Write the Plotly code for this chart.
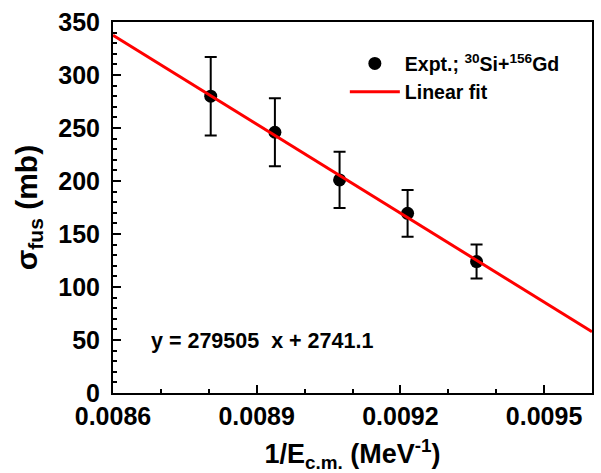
import plotly.graph_objects as go

inv_ecm = [0.008804, 0.008938, 0.009073, 0.009215, 0.009359]
sigma_fus = [280.0, 246.0, 201.0, 169.5, 124.0]
sigma_err = [37.0, 32.0, 26.5, 22.0, 16.0]

# Linear fit line endpoints (y = -279505 x + 2741.1)
fit_x = [0.0086, 0.0096]
fit_y = [337.5, 57.8]

x_ticks = [0.0086, 0.0089, 0.0092, 0.0095]
y_ticks = [0, 50, 100, 150, 200, 250, 300, 350]

FONT = "Liberation Sans, Arial, sans-serif"

fig = go.Figure()
fig.add_trace(go.Scatter(
    x=inv_ecm, y=sigma_fus, mode="markers",
    name="<b>Expt.; <sup>30</sup>Si+<sup>156</sup>Gd</b>",
    marker=dict(color="black", size=13),
    error_y=dict(type="data", array=sigma_err, color="black", thickness=2, width=6),
))
fig.add_trace(go.Scatter(
    x=fit_x, y=fit_y, mode="lines", name="<b>Linear fit</b>",
    line=dict(color="red", width=3),
))

fig.add_annotation(
    x=0.008912, y=49, xref="x", yref="y", showarrow=False,
    text="<b>y = 279505  x + 2741.1</b>",
    font=dict(family=FONT, size=21.5, color="black"),
)

axis_common = dict(
    showline=True, linecolor="black", linewidth=2, mirror=True,
    ticks="inside", ticklen=8, tickwidth=2, tickcolor="black",
    showgrid=False, zeroline=False, automargin=False,
    tickfont=dict(family=FONT, size=25, color="black"),
)

fig.update_xaxes(
    range=[0.0086, 0.0096], tickvals=x_ticks,
    ticktext=[f"<b>{v:.4f}</b>" for v in x_ticks],
    minor=dict(dtick=0.0001, tick0=0.0086, ticks="inside", ticklen=4, tickwidth=2, tickcolor="black"),
    title=dict(text="<b>1/E<sub>c.m.</sub> (MeV<sup>-1</sup>)</b>", font=dict(family=FONT, size=27, color="black"), standoff=20),
    **axis_common,
)
fig.update_yaxes(
    range=[0, 350], tickvals=y_ticks,
    ticktext=[f"<b>{v}</b>" for v in y_ticks],
    minor=dict(dtick=10, tick0=0, ticks="inside", ticklen=4, tickwidth=2, tickcolor="black"),
    title=dict(text="<b>σ<sub>fus</sub> (mb)</b>", font=dict(family=FONT, size=30, color="black"), standoff=12),
    ticklabelstandoff=6,
    **axis_common,
)

fig.update_layout(
    width=601, height=473,
    margin=dict(l=113, r=9, t=22, b=80),
    plot_bgcolor="white", paper_bgcolor="white",
    showlegend=True,
    legend=dict(
        x=0.484, y=0.94, xanchor="left", yanchor="top",
        bgcolor="rgba(0,0,0,0)", borderwidth=0,
        font=dict(family=FONT, size=19.5, color="black"),
        itemwidth=50, tracegroupgap=0,
    ),
)

fig.write_html("out.html")
